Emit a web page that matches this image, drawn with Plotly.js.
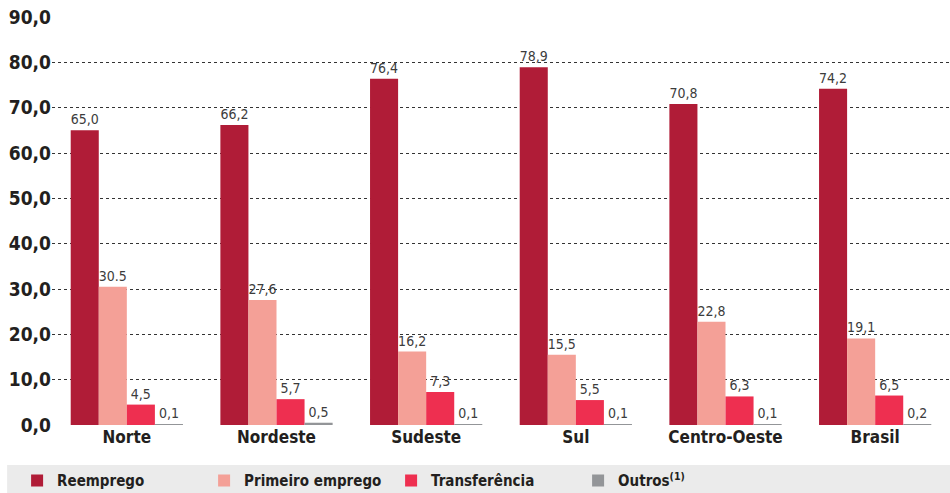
<!DOCTYPE html>
<html>
<head>
<meta charset="utf-8">
<script src="https://cdn.plot.ly/plotly-3.0.1.min.js"></script>
<style>
  body { margin: 0; background: #fff; }
  #plot { width: 950px; height: 493px; }
</style>
</head>
<body>
<div id="plot"></div>
<script>
// regions on the x axis
let regions = ["Norte", "Nordeste", "Sudeste", "Sul", "Centro-Oeste", "Brasil"]

// values per series (%)
let reemprego = [65.0, 66.2, 76.4, 78.9, 70.8, 74.2]
let primeiroEmprego = [30.5, 27.6, 16.2, 15.5, 22.8, 19.1]
let transferencia = [4.5, 5.7, 7.3, 5.5, 6.3, 6.5]
let outros = [0.1, 0.5, 0.1, 0.1, 0.1, 0.2]

let narrow = "DejaVu Sans Condensed, Liberation Sans Narrow, sans-serif"

// labels with comma decimals, like the source
function labels(vals) {
    return vals.map(v => v.toFixed(1).replace(".", ","))
}
let primeiroLabels = labels(primeiroEmprego)
primeiroLabels[0] = "30.5" // the original prints this one with a dot

function makeTrace(name, vals, txt, color) {
    return {
        x: regions,
        y: vals,
        name: name,
        type: "bar",
        text: txt,
        textposition: "outside",
        textfont: {family: narrow, size: 14, color: "#3c3c3c"},
        cliponaxis: false,
        marker: {color: color},
        hoverinfo: "x+y+name"
    }
}

let data = [
    makeTrace("Reemprego", reemprego, labels(reemprego), "#b01c37"),
    makeTrace("Primeiro emprego", primeiroEmprego, primeiroLabels, "#f4a097"),
    makeTrace("Transferência", transferencia, labels(transferencia), "#ee2f50"),
    makeTrace("Outros<sup>(1)</sup>", outros, labels(outros), "#939598")
]

let layout = {
    width: 950,
    height: 493,
    separators: ",.",
    barmode: "group",
    bargap: 0.25,
    bargroupgap: 0,
    margin: {l: 52, r: 0, t: 17, b: 68},
    paper_bgcolor: "#ffffff",
    plot_bgcolor: "#ffffff",
    showlegend: true,
    xaxis: {
        showgrid: false,
        showline: false,
        ticks: "",
        tickfont: {family: narrow, size: 17, color: "#231f20", weight: "bold"}
    },
    yaxis: {
        range: [0, 90],
        dtick: 10,
        tickformat: ".1f",
        showgrid: true,
        gridcolor: "#333333",
        griddash: "dot",
        gridwidth: 1,
        zeroline: false,
        showline: false,
        ticks: "",
        tickfont: {family: narrow, size: 19, color: "#231f20", weight: "bold"}
    },
    legend: {
        orientation: "h",
        xref: "container",
        yref: "container",
        x: 0.018,
        xanchor: "left",
        y: 0.025,
        yanchor: "middle",
        bgcolor: "rgba(0,0,0,0)",
        entrywidth: 142,
        traceorder: "normal",
        font: {family: narrow, size: 15, color: "#231f20", weight: "bold"}
    },
    shapes: [{
        type: "rect",
        xref: "paper",
        yref: "paper",
        x0: -0.05,
        x1: 1,
        y0: -0.098,
        y1: -0.17,
        fillcolor: "#ebebeb",
        line: {width: 0},
        layer: "below"
    }]
}

Plotly.newPlot("plot", data, layout, {displayModeBar: false})
</script>
</body>
</html>
